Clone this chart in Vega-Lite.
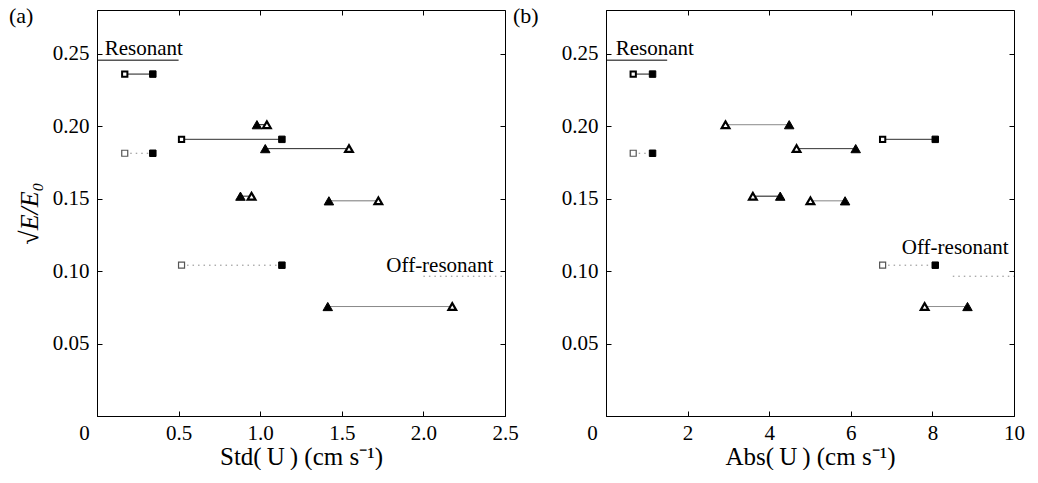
{
  "$schema": "https://vega.github.io/schema/vega-lite/v6.json",
  "padding": {"left": 8, "top": 4, "right": 0, "bottom": 0},
  "background": "white",
  "spacing": 101,
  "bounds": "flush",
  "config": {
    "font": "Liberation Serif",
    "view": {"stroke": "black", "strokeWidth": 1},
    "axis": {
      "grid": false,
      "domainColor": "black",
      "tickColor": "black",
      "labelColor": "black",
      "titleColor": "black",
      "labelFont": "Liberation Serif",
      "titleFont": "Liberation Serif",
      "labelFontSize": 21,
      "titleFontSize": 25,
      "titleFontWeight": "normal",
      "tickSize": -5,
      "labelOverlap": false,
      "labelFlush": false
    },
    "title": {"font": "Liberation Serif", "fontSize": 22, "fontWeight": "normal", "color": "black"}
  },
  "datasets": {
    "pa": [
      {"s": "S1", "mk": "sqo", "ln": "k", "x": 0.170, "y": 0.2358},
      {"s": "S1", "mk": "sqf", "ln": "k", "x": 0.342, "y": 0.2358},
      {"s": "S2", "mk": "sql", "ln": "d", "x": 0.170, "y": 0.1812},
      {"s": "S2", "mk": "sqf", "ln": "d", "x": 0.342, "y": 0.1812},
      {"s": "S3", "mk": "sqo", "ln": "k", "x": 0.518, "y": 0.1908},
      {"s": "S3", "mk": "sqf", "ln": "k", "x": 1.133, "y": 0.1908},
      {"s": "S4", "mk": "sql", "ln": "d", "x": 0.518, "y": 0.1040},
      {"s": "S4", "mk": "sqf", "ln": "d", "x": 1.133, "y": 0.1040},
      {"s": "S5", "mk": "trf", "ln": "k", "x": 0.980, "y": 0.2009},
      {"s": "S5", "mk": "tro", "ln": "k", "x": 1.041, "y": 0.2009},
      {"s": "S6", "mk": "trf", "ln": "k", "x": 1.031, "y": 0.1844},
      {"s": "S6", "mk": "tro", "ln": "k", "x": 1.544, "y": 0.1844},
      {"s": "S7", "mk": "trf", "ln": "k", "x": 0.879, "y": 0.1516},
      {"s": "S7", "mk": "tro", "ln": "k", "x": 0.947, "y": 0.1516},
      {"s": "S8", "mk": "trf", "ln": "g", "x": 1.421, "y": 0.1484},
      {"s": "S8", "mk": "tro", "ln": "g", "x": 1.724, "y": 0.1484},
      {"s": "S9", "mk": "trf", "ln": "g", "x": 1.414, "y": 0.0755},
      {"s": "S9", "mk": "tro", "ln": "g", "x": 2.177, "y": 0.0755}
    ],
    "pb": [
      {"s": "S1", "mk": "sqo", "ln": "k", "x": 0.667, "y": 0.2358},
      {"s": "S1", "mk": "sqf", "ln": "k", "x": 1.141, "y": 0.2358},
      {"s": "S2", "mk": "sql", "ln": "d", "x": 0.667, "y": 0.1812},
      {"s": "S2", "mk": "sqf", "ln": "d", "x": 1.141, "y": 0.1812},
      {"s": "S3", "mk": "sqo", "ln": "k", "x": 6.78, "y": 0.1908},
      {"s": "S3", "mk": "sqf", "ln": "k", "x": 8.07, "y": 0.1908},
      {"s": "S4", "mk": "sql", "ln": "d", "x": 6.78, "y": 0.1040},
      {"s": "S4", "mk": "sqf", "ln": "d", "x": 8.07, "y": 0.1040},
      {"s": "S5", "mk": "tro", "ln": "g", "x": 2.93, "y": 0.2009},
      {"s": "S5", "mk": "trf", "ln": "g", "x": 4.49, "y": 0.2009},
      {"s": "S6", "mk": "tro", "ln": "k", "x": 4.67, "y": 0.1844},
      {"s": "S6", "mk": "trf", "ln": "k", "x": 6.12, "y": 0.1844},
      {"s": "S7", "mk": "tro", "ln": "k", "x": 3.60, "y": 0.1516},
      {"s": "S7", "mk": "trf", "ln": "k", "x": 4.27, "y": 0.1516},
      {"s": "S8", "mk": "tro", "ln": "g", "x": 5.01, "y": 0.1484},
      {"s": "S8", "mk": "trf", "ln": "g", "x": 5.86, "y": 0.1484},
      {"s": "S9", "mk": "tro", "ln": "g", "x": 7.81, "y": 0.0755},
      {"s": "S9", "mk": "trf", "ln": "g", "x": 8.86, "y": 0.0755}
    ],
    "refa": [
      {"ln": "k", "x": 0, "x2": 0.5, "y": 0.2454},
      {"ln": "d", "x": 2.0, "x2": 2.5, "y": 0.0964}
    ],
    "refb": [
      {"ln": "k", "x": 0, "x2": 1.5, "y": 0.2454},
      {"ln": "d", "x": 8.5, "x2": 10, "y": 0.0964}
    ],
    "txta": [
      {"t": "Resonant", "x": 0.047, "y": 0.2487},
      {"t": "Off-resonant", "x": 1.773, "y": 0.0996}
    ],
    "txtb": [
      {"t": "Resonant", "x": 0.24, "y": 0.2487},
      {"t": "Off-resonant", "x": 7.25, "y": 0.1115}
    ]
  },
  "hconcat": [
    {
      "width": 408,
      "height": 406,
      "title": {"text": "(a)", "anchor": "start", "frame": "group", "orient": "top", "offset": 0, "baseline": "alphabetic", "dx": -88, "dy": 35},
      "resolve": {"axis": {"x": "independent", "y": "independent"}},
      "layer": [
        {
          "data": {"name": "refa"},
          "mark": {"type": "rule", "strokeWidth": 1},
          "encoding": {
            "x": {"field": "x", "type": "quantitative", "scale": {"domain": [0, 2.5], "nice": false, "zero": false},
              "axis": {"orient": "bottom", "values": [0, 0.5, 1, 1.5, 2, 2.5], "labelExpr": "datum.value == 0 ? '0' : format(datum.value, '.1f')", "labelPadding": 11, "labelOffset": {"condition": {"test": "datum.value == 0", "value": -13}, "value": 0}, "title": "Std(\u2009U\u2009) (cm  s⁻¹)", "titlePadding": 1}},
            "x2": {"field": "x2"},
            "y": {"field": "y", "type": "quantitative", "scale": {"domain": [0, 0.28], "nice": false, "zero": false},
              "axis": {"orient": "left", "values": [0.05, 0.1, 0.15, 0.2, 0.25], "format": ".2f", "labelPadding": 13, "title": "√E/E₀", "titleFontSize": 26, "titleFontStyle": "italic", "titlePadding": 10}},
            "color": {"field": "ln", "type": "nominal", "scale": {"domain": ["k", "g", "d"], "range": ["black", "#707070", "#8a8a8a"]}, "legend": null},
            "strokeDash": {"field": "ln", "type": "nominal", "scale": {"domain": ["k", "g", "d"], "range": [[1, 0], [1, 0], [1.5, 4]]}, "legend": null}
          }
        },
        {
          "data": {"name": "pa"},
          "mark": {"type": "line", "strokeWidth": 1},
          "encoding": {
            "x": {"field": "x", "type": "quantitative", "scale": {"domain": [0, 2.5], "nice": false, "zero": false}, "axis": null},
            "y": {"field": "y", "type": "quantitative", "scale": {"domain": [0, 0.28], "nice": false, "zero": false}, "axis": null},
            "detail": {"field": "s", "type": "nominal"},
            "color": {"field": "ln", "type": "nominal", "scale": {"domain": ["k", "g", "d"], "range": ["black", "#707070", "#8a8a8a"]}, "legend": null},
            "strokeDash": {"field": "ln", "type": "nominal", "scale": {"domain": ["k", "g", "d"], "range": [[1, 0], [1, 0], [1.5, 4]]}, "legend": null}
          }
        },
        {
          "data": {"name": "pa"},
          "transform": [{"filter": "datum.mk == 'sqo'"}],
          "mark": {"type": "point", "shape": "square", "filled": true, "fill": "white", "stroke": "black", "strokeWidth": 2, "size": 28, "opacity": 1},
          "encoding": {
            "x": {"field": "x", "type": "quantitative", "scale": {"domain": [0, 2.5], "nice": false, "zero": false},
              "axis": {"orient": "top", "values": [0, 0.5, 1, 1.5, 2, 2.5], "labels": false, "title": null, "domain": false}},
            "y": {"field": "y", "type": "quantitative", "scale": {"domain": [0, 0.28], "nice": false, "zero": false},
              "axis": {"orient": "right", "values": [0.05, 0.1, 0.15, 0.2, 0.25], "labels": false, "title": null, "domain": false}}
          }
        },
        {
          "data": {"name": "pa"},
          "transform": [{"filter": "datum.mk == 'sqf'"}],
          "mark": {"type": "point", "shape": "square", "filled": true, "fill": "black", "stroke": "black", "strokeWidth": 1, "size": 42, "opacity": 1},
          "encoding": {
            "x": {"field": "x", "type": "quantitative", "scale": {"domain": [0, 2.5], "nice": false, "zero": false}, "axis": null},
            "y": {"field": "y", "type": "quantitative", "scale": {"domain": [0, 0.28], "nice": false, "zero": false}, "axis": null}
          }
        },
        {
          "data": {"name": "pa"},
          "transform": [{"filter": "datum.mk == 'sql'"}],
          "mark": {"type": "point", "shape": "square", "filled": true, "fill": "white", "stroke": "#555555", "strokeWidth": 1.2, "size": 36, "opacity": 1},
          "encoding": {
            "x": {"field": "x", "type": "quantitative", "scale": {"domain": [0, 2.5], "nice": false, "zero": false}, "axis": null},
            "y": {"field": "y", "type": "quantitative", "scale": {"domain": [0, 0.28], "nice": false, "zero": false}, "axis": null}
          }
        },
        {
          "data": {"name": "pa"},
          "transform": [{"filter": "datum.mk == 'tro'"}],
          "mark": {"type": "point", "shape": "triangle-up", "filled": true, "fill": "white", "stroke": "black", "strokeWidth": 2.2, "size": 60, "opacity": 1},
          "encoding": {
            "x": {"field": "x", "type": "quantitative", "scale": {"domain": [0, 2.5], "nice": false, "zero": false}, "axis": null},
            "y": {"field": "y", "type": "quantitative", "scale": {"domain": [0, 0.28], "nice": false, "zero": false}, "axis": null}
          }
        },
        {
          "data": {"name": "pa"},
          "transform": [{"filter": "datum.mk == 'trf'"}],
          "mark": {"type": "point", "shape": "triangle-up", "filled": true, "fill": "black", "stroke": "black", "strokeWidth": 1, "size": 90, "opacity": 1},
          "encoding": {
            "x": {"field": "x", "type": "quantitative", "scale": {"domain": [0, 2.5], "nice": false, "zero": false}, "axis": null},
            "y": {"field": "y", "type": "quantitative", "scale": {"domain": [0, 0.28], "nice": false, "zero": false}, "axis": null}
          }
        },
        {
          "data": {"name": "txta"},
          "mark": {"type": "text", "align": "left", "baseline": "alphabetic", "font": "Liberation Serif", "fontSize": 21, "color": "black"},
          "encoding": {
            "x": {"field": "x", "type": "quantitative", "scale": {"domain": [0, 2.5], "nice": false, "zero": false}, "axis": null},
            "y": {"field": "y", "type": "quantitative", "scale": {"domain": [0, 0.28], "nice": false, "zero": false}, "axis": null},
            "text": {"field": "t", "type": "nominal"}
          }
        }
      ]
    },
    {
      "width": 408,
      "height": 406,
      "title": {"text": "(b)", "anchor": "start", "frame": "group", "orient": "top", "offset": 0, "baseline": "alphabetic", "dx": -93, "dy": 35},
      "resolve": {"axis": {"x": "independent", "y": "independent"}},
      "layer": [
        {
          "data": {"name": "refb"},
          "mark": {"type": "rule", "strokeWidth": 1},
          "encoding": {
            "x": {"field": "x", "type": "quantitative", "scale": {"domain": [0, 10], "nice": false, "zero": false},
              "axis": {"orient": "bottom", "values": [0, 2, 4, 6, 8, 10], "format": "d", "labelPadding": 11, "labelOffset": {"condition": {"test": "datum.value == 0", "value": -14}, "value": 0}, "title": "Abs(\u2009U\u2009) (cm  s⁻¹)", "titlePadding": 1}},
            "x2": {"field": "x2"},
            "y": {"field": "y", "type": "quantitative", "scale": {"domain": [0, 0.28], "nice": false, "zero": false},
              "axis": {"orient": "left", "values": [0.05, 0.1, 0.15, 0.2, 0.25], "format": ".2f", "labelPadding": 13, "title": null}},
            "color": {"field": "ln", "type": "nominal", "scale": {"domain": ["k", "g", "d"], "range": ["black", "#707070", "#8a8a8a"]}, "legend": null},
            "strokeDash": {"field": "ln", "type": "nominal", "scale": {"domain": ["k", "g", "d"], "range": [[1, 0], [1, 0], [1.5, 4]]}, "legend": null}
          }
        },
        {
          "data": {"name": "pb"},
          "mark": {"type": "line", "strokeWidth": 1},
          "encoding": {
            "x": {"field": "x", "type": "quantitative", "scale": {"domain": [0, 10], "nice": false, "zero": false}, "axis": null},
            "y": {"field": "y", "type": "quantitative", "scale": {"domain": [0, 0.28], "nice": false, "zero": false}, "axis": null},
            "detail": {"field": "s", "type": "nominal"},
            "color": {"field": "ln", "type": "nominal", "scale": {"domain": ["k", "g", "d"], "range": ["black", "#707070", "#8a8a8a"]}, "legend": null},
            "strokeDash": {"field": "ln", "type": "nominal", "scale": {"domain": ["k", "g", "d"], "range": [[1, 0], [1, 0], [1.5, 4]]}, "legend": null}
          }
        },
        {
          "data": {"name": "pb"},
          "transform": [{"filter": "datum.mk == 'sqo'"}],
          "mark": {"type": "point", "shape": "square", "filled": true, "fill": "white", "stroke": "black", "strokeWidth": 2, "size": 28, "opacity": 1},
          "encoding": {
            "x": {"field": "x", "type": "quantitative", "scale": {"domain": [0, 10], "nice": false, "zero": false},
              "axis": {"orient": "top", "values": [0, 2, 4, 6, 8, 10], "labels": false, "title": null, "domain": false}},
            "y": {"field": "y", "type": "quantitative", "scale": {"domain": [0, 0.28], "nice": false, "zero": false},
              "axis": {"orient": "right", "values": [0.05, 0.1, 0.15, 0.2, 0.25], "labels": false, "title": null, "domain": false}}
          }
        },
        {
          "data": {"name": "pb"},
          "transform": [{"filter": "datum.mk == 'sqf'"}],
          "mark": {"type": "point", "shape": "square", "filled": true, "fill": "black", "stroke": "black", "strokeWidth": 1, "size": 42, "opacity": 1},
          "encoding": {
            "x": {"field": "x", "type": "quantitative", "scale": {"domain": [0, 10], "nice": false, "zero": false}, "axis": null},
            "y": {"field": "y", "type": "quantitative", "scale": {"domain": [0, 0.28], "nice": false, "zero": false}, "axis": null}
          }
        },
        {
          "data": {"name": "pb"},
          "transform": [{"filter": "datum.mk == 'sql'"}],
          "mark": {"type": "point", "shape": "square", "filled": true, "fill": "white", "stroke": "#555555", "strokeWidth": 1.2, "size": 36, "opacity": 1},
          "encoding": {
            "x": {"field": "x", "type": "quantitative", "scale": {"domain": [0, 10], "nice": false, "zero": false}, "axis": null},
            "y": {"field": "y", "type": "quantitative", "scale": {"domain": [0, 0.28], "nice": false, "zero": false}, "axis": null}
          }
        },
        {
          "data": {"name": "pb"},
          "transform": [{"filter": "datum.mk == 'tro'"}],
          "mark": {"type": "point", "shape": "triangle-up", "filled": true, "fill": "white", "stroke": "black", "strokeWidth": 2.2, "size": 60, "opacity": 1},
          "encoding": {
            "x": {"field": "x", "type": "quantitative", "scale": {"domain": [0, 10], "nice": false, "zero": false}, "axis": null},
            "y": {"field": "y", "type": "quantitative", "scale": {"domain": [0, 0.28], "nice": false, "zero": false}, "axis": null}
          }
        },
        {
          "data": {"name": "pb"},
          "transform": [{"filter": "datum.mk == 'trf'"}],
          "mark": {"type": "point", "shape": "triangle-up", "filled": true, "fill": "black", "stroke": "black", "strokeWidth": 1, "size": 90, "opacity": 1},
          "encoding": {
            "x": {"field": "x", "type": "quantitative", "scale": {"domain": [0, 10], "nice": false, "zero": false}, "axis": null},
            "y": {"field": "y", "type": "quantitative", "scale": {"domain": [0, 0.28], "nice": false, "zero": false}, "axis": null}
          }
        },
        {
          "data": {"name": "txtb"},
          "mark": {"type": "text", "align": "left", "baseline": "alphabetic", "font": "Liberation Serif", "fontSize": 21, "color": "black"},
          "encoding": {
            "x": {"field": "x", "type": "quantitative", "scale": {"domain": [0, 10], "nice": false, "zero": false}, "axis": null},
            "y": {"field": "y", "type": "quantitative", "scale": {"domain": [0, 0.28], "nice": false, "zero": false}, "axis": null},
            "text": {"field": "t", "type": "nominal"}
          }
        }
      ]
    }
  ]
}
